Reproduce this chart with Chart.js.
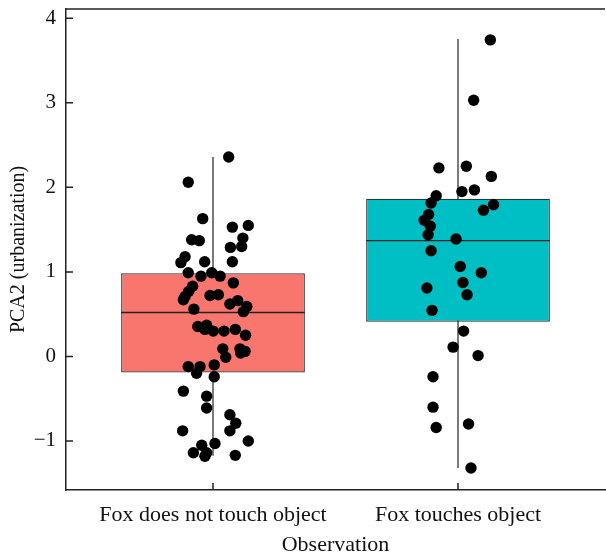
<!DOCTYPE html>
<html>
<head>
<meta charset="utf-8">
<style>
  html, body { margin: 0; padding: 0; background: #fff; }
  #wrap { width: 606px; height: 553px; }
</style>
</head>
<body>
<div id="wrap"><canvas id="foxChart"></canvas></div>
<script src="https://cdn.jsdelivr.net/npm/chart.js"></script>
<script>
    // categories and tick labels
    var groups = ['Fox does not touch object', 'Fox touches object'];
    var yTickValues = [-1, 0, 1, 2, 3, 4];

    // box summaries (per group)
    var q1 = [-0.19, 0.41];
    var median = [0.52, 1.37];
    var q3 = [0.985, 1.865];
    var whiskerLow = [-1.175, -1.32];
    var whiskerHigh = [2.36, 3.755];

    // jittered observations: offset from group centre, value
    var noTouchJitter = [0.064, -0.101, -0.042, 0.079, 0.144, -0.087, -0.056, 0.122, 0.117, 0.071,
        -0.114, -0.131, -0.034, 0.079, -0.101, -0.049, -0.005, 0.029, 0.083, -0.083,
        -0.099, -0.114, -0.121, -0.012, 0.022, 0.069, 0.101, 0.138, 0.124, -0.078,
        -0.062, -0.026, -0.033, 0.001, 0.045, 0.091, 0.133, 0.040, 0.052, 0.110,
        0.131, 0.113, -0.101, -0.053, -0.067, 0.005, 0.005, -0.121, -0.026, -0.026,
        0.069, 0.093, 0.069, -0.124, 0.144, 0.008, -0.046, -0.080, -0.033, -0.026, 0.091];
    var noTouchPCA2 = [2.36, 2.06, 1.63, 1.53, 1.55, 1.38, 1.37, 1.40, 1.30, 1.29,
        1.18, 1.11, 1.12, 1.12, 0.99, 0.95, 0.99, 0.95, 0.87, 0.83,
        0.77, 0.71, 0.67, 0.72, 0.73, 0.62, 0.66, 0.59, 0.53, 0.56,
        0.355, 0.37, 0.32, 0.30, 0.30, 0.32, 0.25, 0.09, -0.01, 0.09,
        0.06, 0.04, -0.12, -0.12, -0.20, -0.10, -0.24, -0.41, -0.47, -0.61,
        -0.69, -0.79, -0.88, -0.88, -1.00, -1.03, -1.05, -1.14, -1.18, -1.14, -1.17];

    var touchJitter = [0.132, 0.064, -0.078, 0.034, 0.136, 0.016, 0.067, -0.089, -0.110, 0.145,
        0.104, -0.120, -0.138, -0.113, -0.122, -0.008, -0.110, 0.009, 0.095, -0.127,
        0.020, 0.037, -0.106, 0.023, -0.020, 0.082, -0.102, -0.102, -0.089, 0.043, 0.053];
    var touchPCA2 = [3.745, 3.03, 2.23, 2.25, 2.13, 1.95, 1.97, 1.90, 1.815, 1.795,
        1.73, 1.68, 1.61, 1.54, 1.44, 1.39, 1.25, 1.065, 0.99, 0.81,
        0.875, 0.73, 0.545, 0.30, 0.11, 0.01, -0.24, -0.60, -0.84, -0.80, -1.32];

    var boxWidth = 0.75;
    var serif = '"Liberation Serif", "Times New Roman", serif';

    function points(centre, jitter, values) {
        return values.map(function (v, i) { return {x: centre + jitter[i], y: v}; });
    }

    var datasets = [];
    groups.forEach(function (g, i) {
        var c = i + 1;
        datasets.push({
            type: 'line', order: 4,
            data: [{x: c, y: whiskerLow[i]}, {x: c, y: whiskerHigh[i]}],
            borderColor: '#333', borderWidth: 1.3, pointRadius: 0
        });
        datasets.push({
            type: 'line', order: 2,
            data: [{x: c - boxWidth / 2, y: median[i]}, {x: c + boxWidth / 2, y: median[i]}],
            borderColor: '#222', borderWidth: 1.3, pointRadius: 0
        });
    });
    datasets.push({
        type: 'bar', order: 3,
        data: groups.map(function (g, i) { return {x: i + 1, y: [q1[i], q3[i]]}; }),
        backgroundColor: ['#F8766D', '#00BFC4'],
        borderColor: '#333', borderWidth: 1.3, borderSkipped: false,
        barPercentage: 1, categoryPercentage: boxWidth
    });
    datasets.push({
        type: 'scatter', order: 1,
        data: points(1, noTouchJitter, noTouchPCA2).concat(points(2, touchJitter, touchPCA2)),
        backgroundColor: '#000', borderWidth: 0, pointRadius: 5.7
    });

    // frame top line and inward tick marks
    var frame = {
        id: 'frame',
        afterDraw: function (chart) {
            var ctx = chart.ctx, a = chart.chartArea;
            var xs = chart.scales.x, ys = chart.scales.y;
            ctx.save();
            ctx.strokeStyle = '#222';
            ctx.lineWidth = 1.5;
            ctx.beginPath();
            ctx.moveTo(a.left, a.top);
            ctx.lineTo(a.right, a.top);
            yTickValues.forEach(function (v) {
                var py = ys.getPixelForValue(v);
                ctx.moveTo(a.left, py);
                ctx.lineTo(a.left + 7, py);
            });
            groups.forEach(function (g, i) {
                var px = xs.getPixelForValue(i + 1);
                ctx.moveTo(px, a.bottom);
                ctx.lineTo(px, a.bottom - 7);
            });
            ctx.stroke();
            ctx.restore();
        }
    };

    new Chart(document.getElementById('foxChart').getContext('2d'), {
        type: 'scatter',
        data: {datasets: datasets},
        plugins: [frame],
        options: {
            responsive: true,
            maintainAspectRatio: false,
            animation: false,
            layout: {autoPadding: false, padding: {top: 9, right: 1, left: 0, bottom: 0}},
            plugins: {legend: {display: false}, tooltip: {enabled: false}},
            scales: {
                x: {
                    type: 'linear', min: 0.4, max: 2.6, offset: false,
                    grid: {display: false, drawTicks: false, offset: false},
                    border: {display: true, color: '#222', width: 1.5},
                    afterBuildTicks: function (s) { s.ticks = groups.map(function (g, i) { return {value: i + 1}; }); },
                    afterFit: function (s) {
                        s.height = 63;
                        s.paddingLeft = 0; s.paddingRight = 0;
                    },
                    ticks: {
                        padding: 12, color: '#111', maxRotation: 0, autoSkip: false,
                        font: {family: serif, size: 22},
                        callback: function (v) { return groups[v - 1]; }
                    },
                    title: {
                        display: true, text: 'Observation', color: '#111',
                        font: {family: serif, size: 22, lineHeight: 0.75}, padding: {top: 0, bottom: 0}
                    }
                },
                y: {
                    type: 'linear', min: -1.58, max: 4.11,
                    grid: {display: false, drawTicks: false},
                    border: {display: true, color: '#222', width: 1.5},
                    afterBuildTicks: function (s) { s.ticks = yTickValues.map(function (v) { return {value: v}; }); },
                    afterFit: function (s) {
                        s.width = 66;
                        s.paddingTop = 0; s.paddingBottom = 0;
                    },
                    ticks: {
                        padding: 10, color: '#111',
                        font: {family: serif, size: 21},
                        callback: function (v) { return v < 0 ? '\u2212' + Math.abs(v) : String(v); }
                    },
                    title: {
                        display: true, text: 'PCA2 (urbanization)', color: '#111',
                        font: {family: serif, size: 20}, padding: {top: 7, bottom: 0}
                    }
                }
            }
        }
    });
</script>
</body>
</html>
